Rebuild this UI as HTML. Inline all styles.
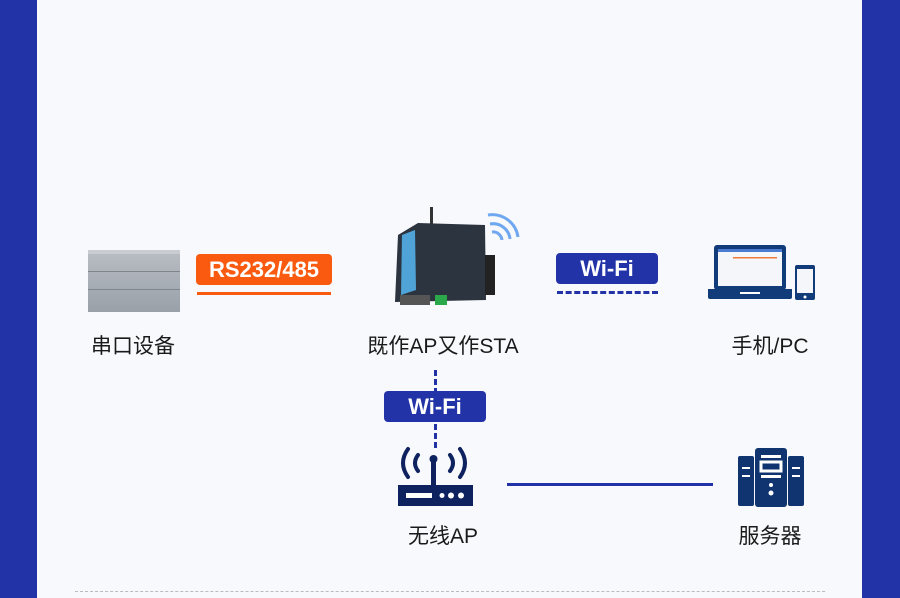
<!DOCTYPE html>
<html><head><meta charset="utf-8"><style>
body{margin:0;width:900px;height:598px;position:relative;overflow:hidden;background:#f8f9fc;font-family:"Liberation Sans","Noto Sans CJK SC",sans-serif}
.a{position:absolute}
.lbl{position:absolute;font-size:21px;color:#1a1a1a;transform:translateX(-50%);white-space:nowrap}
.tag{position:absolute;color:#fff;font-weight:bold;font-size:22px;text-align:center;border-radius:4px}
</style></head><body>
<div class="a" style="left:0;top:0;width:37px;height:598px;background:#2233a8"></div>
<div class="a" style="left:862px;top:0;width:38px;height:598px;background:#2233a8"></div>
<div class="a" style="left:75px;top:591px;width:750px;border-top:1px dashed #bbb"></div>

<!-- PLC -->
<div class="a" style="left:88px;top:250px;width:92px;height:58px;background:linear-gradient(#b7bcc3,#9aa0a8);border-top:4px solid #c9cdd2"></div>
<div class="a" style="left:88px;top:271px;width:92px;height:1px;background:#7f858c"></div>
<div class="a" style="left:88px;top:289px;width:92px;height:1px;background:#7f858c"></div>

<div class="tag" style="left:196px;top:254px;width:136px;height:31px;line-height:31px;background:#fa5a0f">RS232/485</div>
<div class="a" style="left:197px;top:292px;width:134px;height:3px;background:#fa5a0f"></div>

<!-- device -->
<svg class="a" style="left:390px;top:195px" width="140" height="115">
<path d="M98 20 a26 26 0 0 1 30 22" stroke="#6fa8ef" stroke-width="3" fill="none"/>
<path d="M100 29 a17 17 0 0 1 20 15" stroke="#6fa8ef" stroke-width="3" fill="none"/>
<path d="M102 37 a9 9 0 0 1 10 8" stroke="#6fa8ef" stroke-width="3" fill="none"/>
<rect x="40" y="12" width="3" height="20" fill="#333"/>
<path d="M28 28 L95 30 L96 105 L5 107 L8 40 Z" fill="#2c3440"/>
<path d="M12 40 L25 35 L26 95 L11 100 Z" fill="#4fa3d6"/>
<rect x="95" y="60" width="10" height="40" fill="#222"/>
<rect x="10" y="100" width="30" height="10" fill="#555"/>
<rect x="45" y="100" width="12" height="10" fill="#2aa84a"/>
</svg>

<div class="tag" style="left:556px;top:253px;width:102px;height:31px;line-height:31px;background:#2233a8">Wi-Fi</div>
<div class="a" style="left:557px;top:291px;width:101px;border-top:3px dashed #2233a8"></div>

<!-- laptop & phone -->
<svg class="a" style="left:705px;top:243px" width="115" height="60">
<rect x="9" y="2" width="72" height="45" rx="3" fill="#123b7a"/>
<rect x="13" y="6" width="64" height="37" fill="#f4f6fa"/>
<rect x="13" y="6" width="64" height="3" fill="#4a7bd0"/>
<rect x="28" y="14" width="44" height="1.5" fill="#f07a3a"/>
<path d="M3 46 H87 V54 Q87 56 85 56 H5 Q3 56 3 54 Z" fill="#123b7a"/>
<rect x="35" y="49" width="20" height="2" fill="#fff"/>
<rect x="90" y="22" width="20" height="35" rx="2" fill="#123b7a"/>
<rect x="92" y="26" width="16" height="24" fill="#f4f6fa"/>
<circle cx="100" cy="54" r="1.5" fill="#fff"/>
</svg>

<div class="lbl" style="left:133px;top:330px">串口设备</div>
<div class="lbl" style="left:443px;top:330px">既作AP又作STA</div>
<div class="lbl" style="left:770px;top:330px">手机/PC</div>

<div class="a" style="left:434px;top:370px;height:78px;border-left:3px dashed #2233a8"></div>
<div class="tag" style="left:384px;top:391px;width:102px;height:31px;line-height:31px;background:#2233a8">Wi-Fi</div>

<!-- router -->
<svg class="a" style="left:396px;top:443px" width="80" height="65">
<g stroke="#0f2260" stroke-width="4" fill="none" stroke-linecap="round">
<path d="M12 6 Q2 20 12 34"/><path d="M22 12 Q16 20 22 28"/>
<path d="M64 6 Q74 20 64 34"/><path d="M54 12 Q60 20 54 28"/>
</g>
<rect x="35" y="14" width="5" height="30" fill="#0f2260"/>
<circle cx="37.5" cy="16" r="4" fill="#0f2260"/>
<rect x="2" y="42" width="75" height="21" fill="#0f2260"/>
<rect x="10" y="50" width="26" height="5" fill="#fff"/>
<circle cx="46" cy="52.5" r="2.5" fill="#fff"/><circle cx="55" cy="52.5" r="3" fill="#fff"/><circle cx="65" cy="52.5" r="3" fill="#fff"/>
</svg>

<div class="a" style="left:507px;top:483px;width:206px;height:3px;background:#2233a8"></div>

<!-- server -->
<svg class="a" style="left:737px;top:447px" width="70" height="62">
<rect x="1" y="9" width="16" height="50" rx="2" fill="#0f3470"/>
<rect x="51" y="9" width="16" height="50" rx="2" fill="#0f3470"/>
<rect x="18" y="1" width="32" height="59" rx="3" fill="#0f3470"/>
<rect x="24" y="8" width="20" height="3" fill="#fff"/>
<rect x="24" y="15" width="20" height="9" fill="none" stroke="#fff" stroke-width="3"/>
<rect x="24" y="28" width="20" height="3" fill="#fff"/>
<circle cx="34" cy="38" r="2" fill="#fff"/><circle cx="34" cy="46" r="2.5" fill="#fff"/>
<rect x="5" y="20" width="8" height="2" fill="#fff"/><rect x="5" y="28" width="8" height="2" fill="#fff"/>
<rect x="55" y="20" width="8" height="2" fill="#fff"/><rect x="55" y="28" width="8" height="2" fill="#fff"/>
</svg>

<div class="lbl" style="left:443px;top:520px">无线AP</div>
<div class="lbl" style="left:770px;top:520px">服务器</div>
</body></html>
